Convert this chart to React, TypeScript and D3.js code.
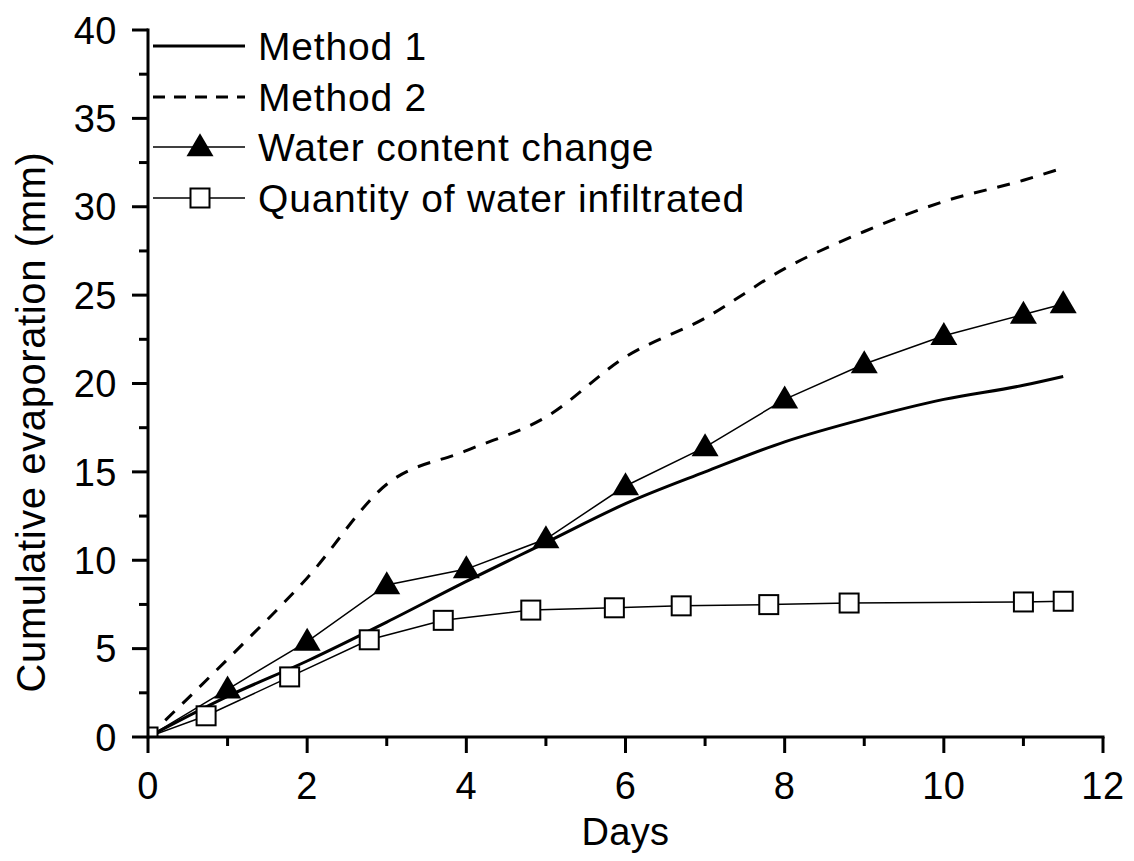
import React from "react";
import * as d3 from "d3";

const method1Days = [0, 1, 2, 3, 4, 5, 6, 7, 8, 9, 10, 11, 11.5];
const method1Values = [0, 2.3, 4.3, 6.5, 8.8, 11.0, 13.2, 15.0, 16.7, 18.0, 19.1, 19.9, 20.4];

const method2Days = [0, 1, 2, 3, 4, 5, 6, 7, 8, 9, 10, 11, 11.5];
const method2Values = [0, 4.4, 9.0, 14.3, 16.2, 18.1, 21.5, 23.7, 26.5, 28.6, 30.3, 31.5, 32.2];

const waterDays = [0, 1, 2, 3, 4, 5, 6, 7, 8, 9, 10, 11, 11.5];
const waterValues = [0, 2.7, 5.4, 8.6, 9.5, 11.2, 14.2, 16.4, 19.1, 21.1, 22.7, 23.9, 24.5];

const infilDays = [0, 0.73, 1.78, 2.78, 3.71, 4.81, 5.86, 6.7, 7.8, 8.81, 11.0, 11.5];
const infilValues = [0, 1.2, 3.4, 5.5, 6.6, 7.18, 7.31, 7.42, 7.49, 7.58, 7.64, 7.68];

const xMajorTicks = [0, 2, 4, 6, 8, 10, 12];
const xMinorTicks = [1, 3, 5, 7, 9, 11];
const yMajorTicks = [0, 5, 10, 15, 20, 25, 30, 35, 40];
const yMinorTicks = [2.5, 7.5, 12.5, 17.5, 22.5, 27.5, 32.5, 37.5];

const legendLabels = ["Method 1", "Method 2", "Water content change", "Quantity of water infiltrated"];

const FONT = "'Liberation Sans', Arial, sans-serif";

export default function App() {
  const W = 1134;
  const H = 861;
  const x = d3.scaleLinear().domain([0, 12]).range([148, 1103]);
  const y = d3.scaleLinear().domain([0, 40]).range([737, 30]);

  const zip = (a: number[], b: number[]) => a.map((d, i) => [d, b[i]] as [number, number]);
  const m1 = zip(method1Days, method1Values);
  const m2 = zip(method2Days, method2Values);
  const wc = zip(waterDays, waterValues);
  const qi = zip(infilDays, infilValues);

  const smooth = d3.line<[number, number]>().x((d) => x(d[0])).y((d) => y(d[1])).curve(d3.curveMonotoneX);
  const straight = d3.line<[number, number]>().x((d) => x(d[0])).y((d) => y(d[1]));

  const triPath = (cx: number, cy: number) => {
    const w = 27, h = 23;
    return `M${cx},${cy - h * 0.6}L${cx + w / 2},${cy + h * 0.4}L${cx - w / 2},${cy + h * 0.4}Z`;
  };
  const sq = 19;

  const [x0, x1] = x.range();
  const [y0, y1] = y.range();

  const legendY = [46, 97, 147, 198];

  return (
    <svg width={W} height={H} style={{ display: "block", position: "absolute", left: 0, top: 0 }} fontFamily={FONT}>
      <rect width={W} height={H} fill="#fff" />
      <defs>
        <clipPath id="plotclip">
          <rect x={x0} y={y1 - 20} width={x1 - x0 + 20} height={y0 - y1 + 20} />
        </clipPath>
      </defs>

      {/* series */}
      <g clipPath="url(#plotclip)">
        <path d={smooth(m2) || ""} fill="none" stroke="#000" strokeWidth={3} strokeDasharray="13 11" />
        <path d={smooth(m1) || ""} fill="none" stroke="#000" strokeWidth={3} />
        <path d={straight(wc) || ""} fill="none" stroke="#000" strokeWidth={1.5} />
        <path d={straight(qi) || ""} fill="none" stroke="#000" strokeWidth={1.5} />
        {wc.filter((d) => d[0] > 0).map((d, i) => (
          <path key={"t" + i} d={triPath(x(d[0]), y(d[1]))} fill="#000" />
        ))}
        {qi.map((d, i) => (
          <rect key={"s" + i} x={x(d[0]) - sq / 2} y={y(d[1]) - sq / 2} width={sq} height={sq} fill="#fff" stroke="#000" strokeWidth={2} />
        ))}
      </g>

      {/* axes */}
      <g stroke="#000" strokeWidth={3} fill="none">
        <line x1={x0} y1={y0} x2={x1 + 1.5} y2={y0} />
        <line x1={x0} y1={y0 + 1.5} x2={x0} y2={y1 - 1.5} />
        {xMajorTicks.map((t) => (
          <line key={"xM" + t} x1={x(t)} y1={y0} x2={x(t)} y2={y0 + 16} />
        ))}
        {xMinorTicks.map((t) => (
          <line key={"xm" + t} x1={x(t)} y1={y0} x2={x(t)} y2={y0 + 9} />
        ))}
        {yMajorTicks.map((t) => (
          <line key={"yM" + t} x1={x0} y1={y(t)} x2={x0 - 16} y2={y(t)} />
        ))}
        {yMinorTicks.map((t) => (
          <line key={"ym" + t} x1={x0} y1={y(t)} x2={x0 - 9} y2={y(t)} />
        ))}
      </g>

      <g fontSize={38} fill="#000">
        {xMajorTicks.map((t) => (
          <text key={"xl" + t} x={x(t)} y={y0 + 62} textAnchor="middle" letterSpacing={0.5}>{t}</text>
        ))}
        {yMajorTicks.map((t) => (
          <text key={"yl" + t} x={x0 - 31} y={y(t)} dy="0.36em" textAnchor="end" letterSpacing={0.5}>{t}</text>
        ))}
        <text x={(x0 + x1) / 2} y={845} textAnchor="middle" letterSpacing={0.3}>Days</text>
        <text transform={`translate(45,422) rotate(-90)`} textAnchor="middle" fontSize={40} letterSpacing={0.6}>Cumulative evaporation (mm)</text>
      </g>

      {/* legend */}
      <g>
        <line x1={153} x2={245} y1={legendY[0]} y2={legendY[0]} stroke="#000" strokeWidth={3} />
        <line x1={153} x2={245} y1={legendY[1]} y2={legendY[1]} stroke="#000" strokeWidth={3} strokeDasharray="12 9" />
        <line x1={153} x2={245} y1={legendY[2]} y2={legendY[2]} stroke="#000" strokeWidth={1.5} />
        <path d={triPath(200, legendY[2])} fill="#000" />
        <line x1={153} x2={245} y1={legendY[3]} y2={legendY[3]} stroke="#000" strokeWidth={1.5} />
        <rect x={200 - sq / 2} y={legendY[3] - sq / 2} width={sq} height={sq} fill="#fff" stroke="#000" strokeWidth={2} />
        {legendLabels.map((l, i) => (
          <text key={l} x={258} y={legendY[i]} dy="0.36em" fontSize={39} letterSpacing={0.8} fill="#000">{l}</text>
        ))}
      </g>
    </svg>
  );
}
